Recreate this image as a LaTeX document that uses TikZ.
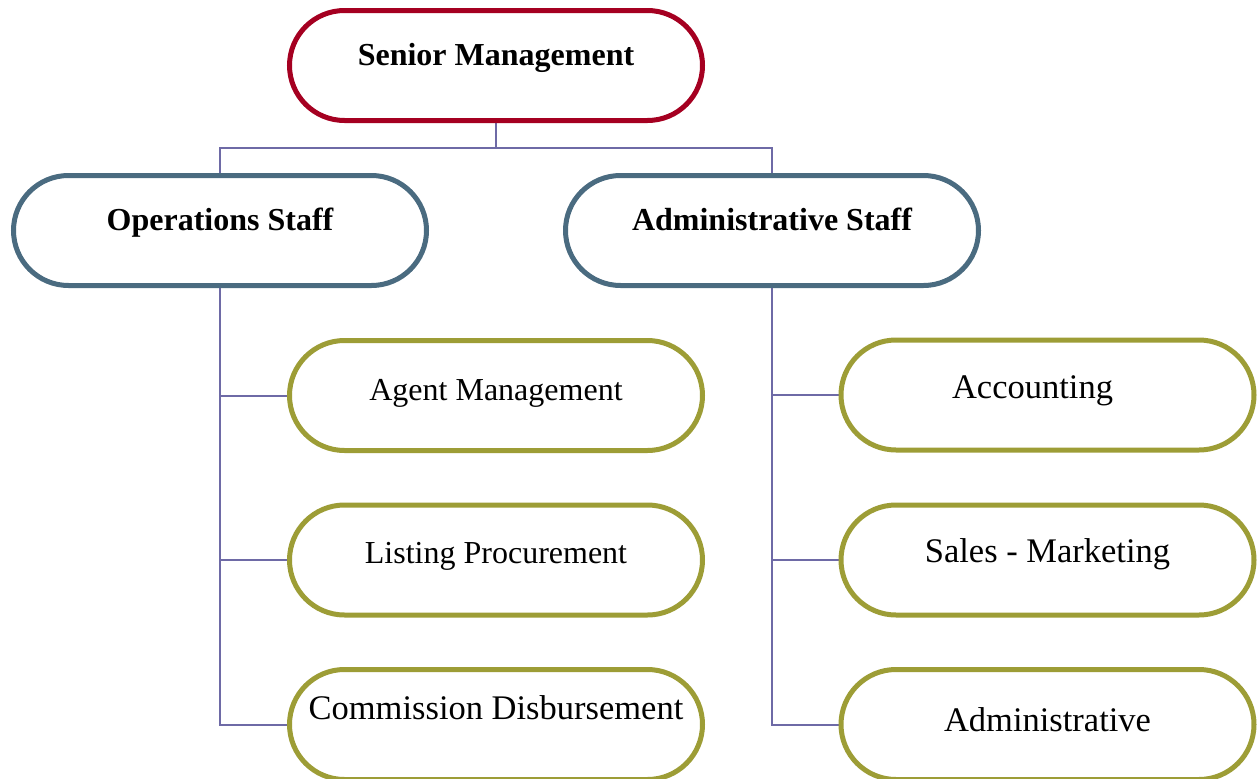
\documentclass[tikz,border=0pt]{standalone}
\usepackage{fontspec}
\setmainfont{Liberation Serif}
\usetikzlibrary{backgrounds}
\definecolor{cred}{RGB}{165,0,33}
\definecolor{cslate}{RGB}{74,107,128}
\definecolor{colive}{RGB}{157,157,54}
\definecolor{cconn}{RGB}{110,106,166}
\tikzset{
  pill/.style={draw, fill=white, line width=5pt, rounded corners=55pt,
    minimum width=413pt, minimum height=110pt, inner sep=0pt},
  topbox/.style={pill, draw=cred},
  midbox/.style={pill, draw=cslate},
  leafbox/.style={pill, draw=colive},
  conn/.style={draw=cconn, line width=2pt},
  btxt/.style={anchor=base, inner sep=0pt, font=\fontsize{32}{38}\selectfont\bfseries},
  stxt/.style={anchor=base, inner sep=0pt, font=\fontsize{32}{38}\selectfont},
  ltxt/.style={anchor=base, inner sep=0pt, font=\fontsize{34.5}{40}\selectfont},
}
\begin{document}
\begin{tikzpicture}[x=1pt, y=-1pt]
\useasboundingbox (0,0) rectangle (1259,779);
\clip (0,0) rectangle (1259,779);
% boxes
\node[topbox] (sm) at (496,65.5) {};
\node[midbox] (ops) at (220,230.5) {};
\node[midbox] (adm) at (772,230.5) {};
\node[leafbox] (agent) at (496,395.5) {};
\node[leafbox] (list) at (496,560) {};
\node[leafbox] (comm) at (496,724.5) {};
\node[leafbox] (acc) at (1047.5,395) {};
\node[leafbox] (sales) at (1047.5,560) {};
\node[leafbox] (admin) at (1047.5,724.5) {};
% texts
\node[btxt] (tsm) at (496,65) {Senior Management};
\node[btxt] (tops) at (220,230) {Operations Staff};
\node[btxt] (tadm) at (772,230) {Administrative Staff};
\node[stxt] (tagent) at (496,400) {Agent Management};
\node[stxt] (tlist) at (496,563) {Listing Procurement};
\node[ltxt] (tcomm) at (496,719) {Commission Disbursement};
\node[ltxt] (tacc) at (1032.5,398) {Accounting};
\node[ltxt] (tsales) at (1047.5,562) {Sales - Marketing};
\node[ltxt] (tadmin) at (1047.5,731) {Administrative};
% connectors
\coordinate (bar) at (496,148);
\begin{scope}[on background layer]
\fill[white] (0,0) rectangle (1259,779);
\draw[conn] (sm.south) -- (bar);
\draw[conn] (ops.north) |- (bar) -| (adm.north);
\draw[conn] (ops.south) |- (agent.west);
\draw[conn] (ops.south) |- (list.west);
\draw[conn] (ops.south) |- (comm.west);
\draw[conn] (adm.south) |- (acc.west);
\draw[conn] (adm.south) |- (sales.west);
\draw[conn] (adm.south) |- (admin.west);
\end{scope}
\end{tikzpicture}
\end{document}
